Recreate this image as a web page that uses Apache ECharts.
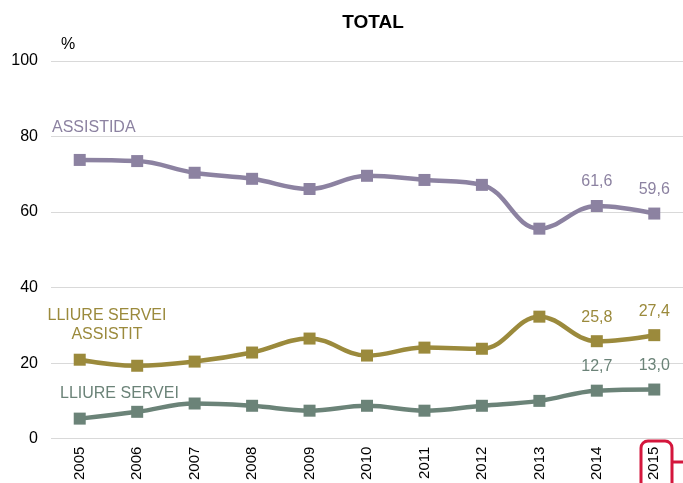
<!DOCTYPE html>
<html><head><meta charset="utf-8">
<script src="https://cdn.jsdelivr.net/npm/echarts@6/dist/echarts.min.js"></script>
<style>html,body{margin:0;padding:0;background:#fff}#c{width:683px;height:483px}</style>
</head><body><div id="c"></div>
<script>
const years = ['2005','2006','2007','2008','2009','2010','2011','2012','2013','2014','2015'];
const assistida = [73.8, 73.5, 70.4, 68.8, 66.1, 69.6, 68.5, 67.2, 55.6, 61.6, 59.6];
const lliureAssistit = [20.9, 19.3, 20.4, 22.8, 26.5, 22.0, 24.1, 23.8, 32.3, 25.8, 27.4];
const lliure = [5.3, 7.1, 9.3, 8.7, 7.4, 8.7, 7.4, 8.7, 10.0, 12.7, 13.0];
const yTicks = [0, 20, 40, 60, 80, 100];
const labeledYears = ['2014', '2015'];

const font = 'Liberation Sans, Arial, sans-serif';
const cA = '#8c82a1', cB = '#9b8a3c', cC = '#6b8378';

function mk(name, data, color) {
  return {
    name, type: 'line', data, smooth: 0.4,
    symbol: 'rect', symbolSize: 12,
    lineStyle: { color, width: 4.5 },
    itemStyle: { color },
    label: {
      show: true, position: 'top', distance: 10,
      fontFamily: font, fontSize: 16, color,
      formatter: p => labeledYears.includes(p.name) ? p.value.toFixed(1).replace('.', ',') : ''
    },
    z: 3
  };
}

const chart = echarts.init(document.getElementById('c'));
chart.setOption({
  animation: false,
  backgroundColor: '#fff',
  title: { text: 'TOTAL', left: 368, top: 8, textAlign: 'center',
    textStyle: { fontFamily: font, fontSize: 19, fontWeight: 'bold', color: '#000' } },
  grid: { left: 51, top: 61, width: 634, height: 378, containLabel: false },
  xAxis: {
    type: 'category', data: years, boundaryGap: true,
    axisLine: { show: false }, axisTick: { show: false },
    axisLabel: { rotate: 90, fontFamily: font, fontSize: 15, color: '#000', margin: 8 }
  },
  yAxis: {
    type: 'value', min: 0, max: 100, interval: 20,
    axisLine: { show: false }, axisTick: { show: false },
    splitLine: { lineStyle: { color: '#d9d9d9', width: 1 } },
    axisLabel: { fontFamily: font, fontSize: 16, color: '#000', margin: 13,
      formatter: v => yTicks.includes(v) ? String(v) : '' }
  },
  series: [mk('ASSISTIDA', assistida, cA), mk('LLIURE SERVEI ASSISTIT', lliureAssistit, cB), mk('LLIURE SERVEI', lliure, cC)],
  graphic: [
    { type: 'text', x: 61, y: 37, style: { text: '%', font: '16px ' + font, fill: '#000' } },
    { type: 'text', x: 52, y: 120, style: { text: 'ASSISTIDA', font: '16px ' + font, fill: cA } },
    { type: 'text', x: 107, y: 306, style: { text: 'LLIURE SERVEI\nASSISTIT', font: '16px ' + font, fill: cB, align: 'center', lineHeight: 19 } },
    { type: 'text', x: 60, y: 386, style: { text: 'LLIURE SERVEI', font: '16px ' + font, fill: cC } },
    { type: 'rect', shape: { x: 641, y: 441, width: 31, height: 50, r: 7 }, style: { fill: 'none', stroke: '#d4163c', lineWidth: 3 }, z: 10 },
    { type: 'line', shape: { x1: 672, y1: 462, x2: 683, y2: 462 }, style: { stroke: '#d4163c', lineWidth: 3 }, z: 10 }
  ]
});
</script></body></html>
